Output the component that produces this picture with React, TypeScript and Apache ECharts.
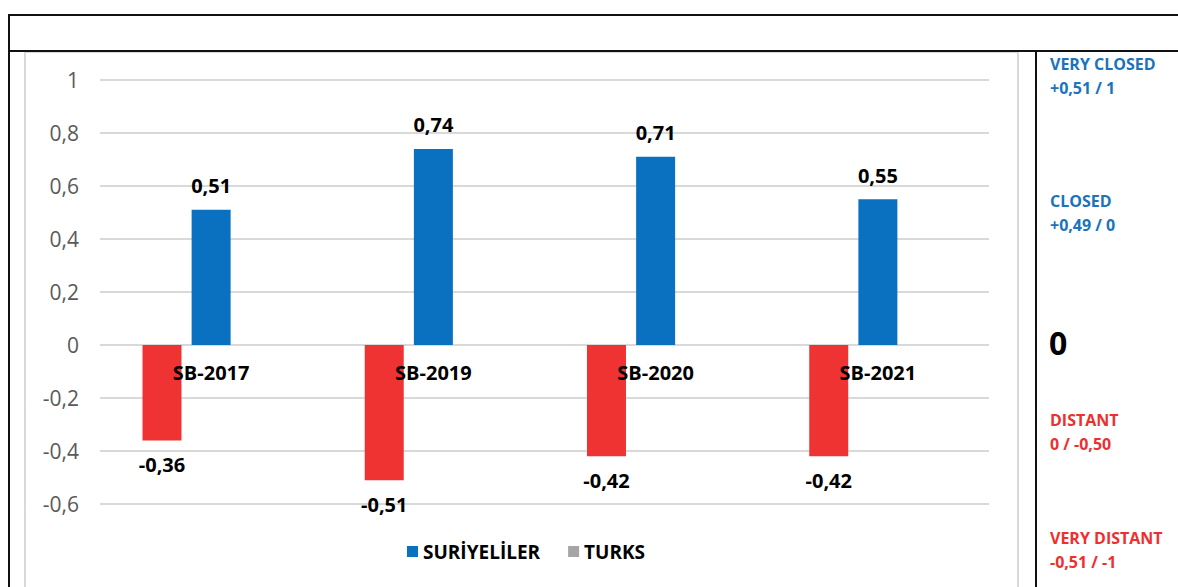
import React, { useEffect, useRef } from "react";
import * as echarts from "echarts";

// Survey rounds and the two groups' scores
const categories = ["SB-2017", "SB-2019", "SB-2020", "SB-2021"];
const suriyeliler = [0.51, 0.74, 0.71, 0.55];
const turks = [-0.36, -0.51, -0.42, -0.42];
const yTicks = { min: -0.6, max: 1, interval: 0.2 };

// Scale key on the right-hand side
const scaleKey = [
  { title: "VERY CLOSED", range: "+0,51 / 1", color: "#1a73bb", y: 64 },
  { title: "CLOSED", range: "+0,49 / 0", color: "#1a73bb", y: 201 },
  { title: "DISTANT", range: "0 / -0,50", color: "#ee2f2f", y: 420 },
  { title: "VERY DISTANT", range: "-0,51 / -1", color: "#ee2f2f", y: 538 },
];

const FONT = '"Open Sans", "Noto Sans", sans-serif';
const BLUE = "#0a70c0";
const RED = "#ef3333";
const GREY = "#a5a5a5";
const GRID = "#d9d9d9";

const comma = (v: number) =>
  String(Math.round(v * 100) / 100).replace(".", ",");

export default function App() {
  const ref = useRef<HTMLDivElement>(null);

  useEffect(() => {
    if (!ref.current) return;
    const chart = echarts.init(ref.current, undefined, { renderer: "svg" });

    const frame = [
      // outer black frame
      { type: "line", shape: { x1: 9, y1: 15, x2: 1178, y2: 15 } },
      { type: "line", shape: { x1: 9, y1: 51, x2: 1178, y2: 51 } },
      { type: "line", shape: { x1: 9, y1: 14, x2: 9, y2: 587 } },
      { type: "line", shape: { x1: 1036, y1: 51, x2: 1036, y2: 587 } },
    ].map((l) => ({
      ...l,
      silent: true,
      style: { stroke: "#111", lineWidth: 2 },
    }));

    const keyTexts: any[] = [];
    scaleKey.forEach((k) => {
      keyTexts.push({
        type: "text",
        x: 1050,
        y: k.y,
        style: {
          text: k.title,
          font: `bold 16px ${FONT}`,
          fill: k.color,
          verticalAlign: "middle",
        },
      });
      keyTexts.push({
        type: "text",
        x: 1050,
        y: k.y + 24,
        style: {
          text: k.range,
          font: `bold 16px ${FONT}`,
          fill: k.color,
          verticalAlign: "middle",
        },
      });
    });
    keyTexts.push({
      type: "text",
      x: 1049,
      y: 342,
      style: {
        text: "0",
        font: `bold 32px ${FONT}`,
        fill: "#000",
        verticalAlign: "middle",
      },
    });

    const barCommon = {
      type: "bar",
      barWidth: 39,
      barGap: "26%",
    };

    chart.setOption({
      animation: false,
      backgroundColor: "#fff",
      textStyle: { fontFamily: FONT },
      grid: { left: 100, right: 189, top: 80, bottom: 83 },
      legend: {
        left: 402,
        top: 537,
        itemWidth: 11,
        itemHeight: 11,
        itemGap: 28,
        icon: "rect",
        textStyle: { fontFamily: FONT, fontWeight: "bold", fontSize: 19, color: "#000" },
        data: [
          { name: "SURİYELİLER" },
          { name: "TURKS", itemStyle: { color: GREY } },
        ],
        selectedMode: false,
      },
      xAxis: {
        type: "category",
        data: categories,
        z: 5,
        axisLine: { show: false },
        axisTick: { show: false },
        axisLabel: {
          fontFamily: FONT,
          fontWeight: "bold",
          fontSize: 20,
          color: "#000",
          // category names sit just under the zero line
          margin: -142,
        },
        splitLine: { show: false },
      },
      yAxis: {
        type: "value",
        min: yTicks.min,
        max: yTicks.max,
        interval: yTicks.interval,
        axisLine: { show: false },
        axisTick: { show: false },
        axisLabel: {
          fontFamily: FONT,
          fontSize: 21,
          color: "#595959",
          margin: 21,
          formatter: (v: number) => comma(Math.round(v * 10) / 10),
        },
        splitLine: { lineStyle: { color: GRID, width: 2 } },
      },
      series: [
        {
          ...barCommon,
          name: "TURKS",
          data: turks,
          itemStyle: { color: RED },
          label: {
            show: true,
            position: "bottom",
            distance: 14,
            fontFamily: FONT,
            fontWeight: "bold",
            fontSize: 20,
            color: "#000",
            formatter: (p: any) => comma(p.value),
          },
        },
        {
          ...barCommon,
          name: "SURİYELİLER",
          data: suriyeliler,
          itemStyle: { color: BLUE },
          label: {
            show: true,
            position: "top",
            distance: 14,
            fontFamily: FONT,
            fontWeight: "bold",
            fontSize: 20,
            color: "#000",
            formatter: (p: any) => comma(p.value),
          },
        },
        {
          // empty slot that keeps the blue bars centred on each category
          ...barCommon,
          name: "spacer",
          data: categories.map(() => null),
          silent: true,
        },
      ],
      graphic: [
        {
          type: "rect",
          silent: true,
          z: -10,
          shape: { x: 25, y: 52, width: 993, height: 560 },
          style: { fill: "none", stroke: GRID, lineWidth: 2 },
        },
        ...frame,
        ...keyTexts,
      ],
    });

    return () => chart.dispose();
  }, []);

  return (
    <div
      ref={ref}
      style={{ position: "fixed", left: 0, top: 0, width: 1178, height: 587 }}
    />
  );
}
